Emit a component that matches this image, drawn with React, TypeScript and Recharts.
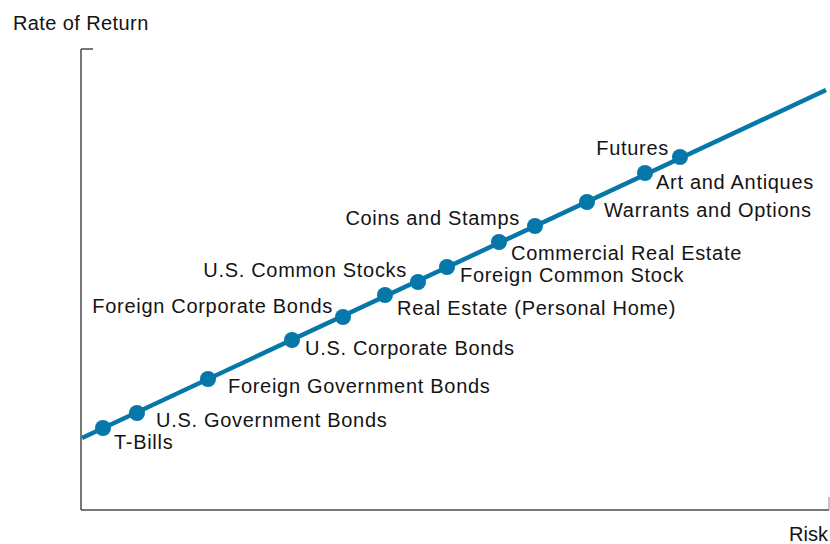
import React from 'react';
import { ComposedChart, Line, Scatter, XAxis, YAxis, ReferenceLine } from 'recharts';

// Investment categories along the risk-return line
const categories = [
  'T-Bills',
  'U.S. Government Bonds',
  'Foreign Government Bonds',
  'U.S. Corporate Bonds',
  'Foreign Corporate Bonds',
  'Real Estate (Personal Home)',
  'U.S. Common Stocks',
  'Foreign Common Stock',
  'Commercial Real Estate',
  'Coins and Stamps',
  'Warrants and Options',
  'Art and Antiques',
  'Futures',
];
const riskValues = [22, 56, 127, 211, 262, 304, 337, 366, 418, 454, 506, 564, 599];
const returnValues = [82, 97, 131, 170, 193, 215, 228, 243, 268, 284, 308, 337, 353];

// Risk-return trade-off line endpoints
const lineRisk = [1, 745];
const lineReturn = [72, 420];

// Axis domains
const riskDomain = [0, 748];
const returnDomain = [0, 461];

// Label placement (style): offset from point, anchor
const labelPlacement = [
  { dx: 11, dy: 21, anchor: 'start' },
  { dx: 19, dy: 14, anchor: 'start' },
  { dx: 20, dy: 14, anchor: 'start' },
  { dx: 13, dy: 15, anchor: 'start' },
  { dx: -10, dy: -4, anchor: 'end' },
  { dx: 12, dy: 20, anchor: 'start' },
  { dx: -11, dy: -5, anchor: 'end' },
  { dx: 13, dy: 15, anchor: 'start' },
  { dx: 12, dy: 18, anchor: 'start' },
  { dx: -15, dy: -1, anchor: 'end' },
  { dx: 17, dy: 15, anchor: 'start' },
  { dx: 11, dy: 16, anchor: 'start' },
  { dx: -11, dy: -2, anchor: 'end' },
];

const pointData = categories.map((name, i) => ({ name, risk: riskValues[i], ret: returnValues[i] }));
const lineData = lineRisk.map((r, i) => ({ risk: r, ret: lineReturn[i] }));

const BLUE = '#0677a9';
const FONT = '"Liberation Sans", Arial, Helvetica, sans-serif';
const AXIS = '#4a4a4a';
const TEXT = '#141414';

const PointShape = (props: any) => {
  const { cx, cy, payload } = props;
  const idx = categories.indexOf(payload.name);
  const pl = labelPlacement[idx] || { dx: 10, dy: 10, anchor: 'start' };
  return (
    <g>
      <circle cx={cx} cy={cy} r={8} fill={BLUE} />
      <text
        x={cx + pl.dx}
        y={cy + pl.dy}
        textAnchor={pl.anchor as any}
        fontFamily={FONT}
        fontSize={20}
        letterSpacing={0.7}
        fill={TEXT}
      >
        {payload.name}
      </text>
    </g>
  );
};

export default function App() {
  return (
    <div style={{ position: 'absolute', left: 0, top: 0, width: 830, height: 544, background: '#fff' }}>
      <ComposedChart width={830} height={544} margin={{ top: 49, right: 1, bottom: 34, left: 81 }}>
        <XAxis
          type="number"
          dataKey="risk"
          domain={riskDomain}
          allowDataOverflow
          hide
        />
        <YAxis
          type="number"
          dataKey="ret"
          domain={returnDomain}
          allowDataOverflow
          hide
        />
        <ReferenceLine
          segment={[{ x: riskDomain[0], y: returnDomain[0] }, { x: riskDomain[0], y: returnDomain[1] }]}
          stroke={AXIS}
          strokeWidth={1.5}
          ifOverflow="visible"
        />
        <ReferenceLine
          segment={[{ x: riskDomain[0], y: returnDomain[0] }, { x: riskDomain[1], y: returnDomain[0] }]}
          stroke={AXIS}
          strokeWidth={1.5}
          ifOverflow="visible"
        />
        <ReferenceLine
          segment={[{ x: riskDomain[0], y: returnDomain[1] }, { x: riskDomain[0] + 12, y: returnDomain[1] }]}
          stroke={AXIS}
          strokeWidth={1.5}
          ifOverflow="visible"
        />
        <ReferenceLine
          segment={[{ x: riskDomain[1], y: returnDomain[0] }, { x: riskDomain[1], y: returnDomain[0] + 13 }]}
          stroke="#888"
          strokeWidth={1}
          ifOverflow="visible"
        />
        <Line
          data={lineData}
          dataKey="ret"
          type="linear"
          stroke={BLUE}
          strokeWidth={4.5}
          dot={false}
          activeDot={false}
          isAnimationActive={false}
        />
        <Scatter data={pointData} dataKey="ret" shape={PointShape} isAnimationActive={false} />
        <text x={13} y={30} fontFamily={FONT} fontSize={20} letterSpacing={0.4} fill={TEXT}>
          Rate of Return
        </text>
        <text x={828} y={541} textAnchor="end" fontFamily={FONT} fontSize={20} fill={TEXT}>
          Risk
        </text>
      </ComposedChart>
    </div>
  );
}
